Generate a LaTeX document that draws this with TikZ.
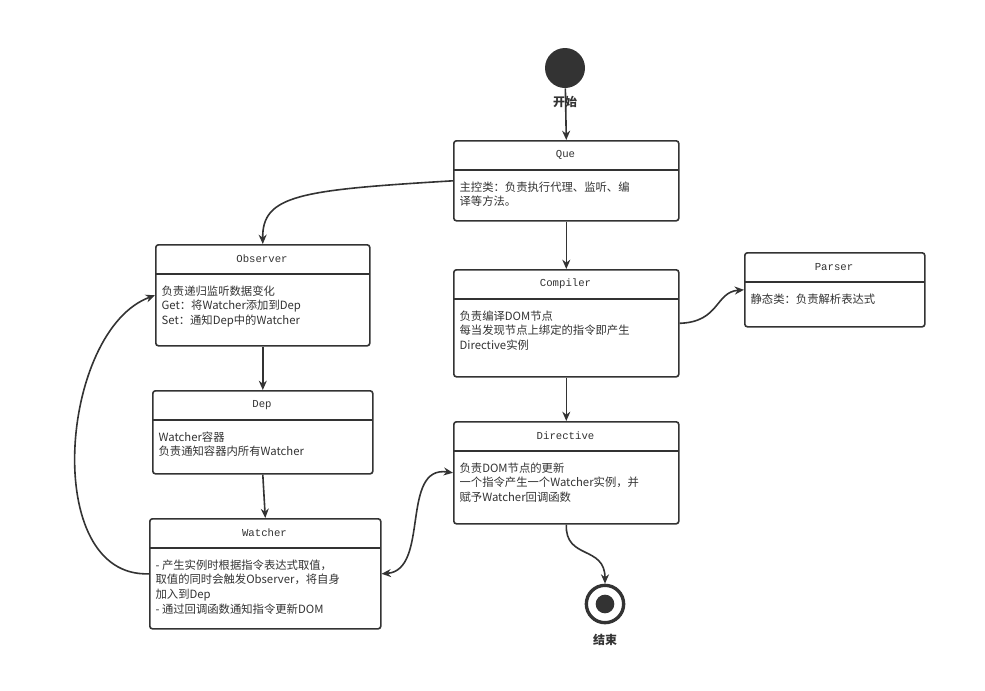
\documentclass[tikz,border=0pt]{standalone}
\usepackage{fontspec}
\setmainfont{Noto Sans CJK SC}
\newfontfamily\titlefont{Liberation Mono}
\usetikzlibrary{arrows.meta}

% class box: name, x1, y1, x2, y2, divider y, title, body
\newcommand{\classbox}[8]{%
  \pgfmathsetmacro{\bw}{(#4-#2)*0.75}%
  \pgfmathsetmacro{\bh}{(#5-#3)*0.75}%
  \node[box, minimum width=\bw pt, minimum height=\bh pt, anchor=north west] (#1) at (#2,#3) {};
  \draw[line width=1.2pt, draw=linegray] (#2,#6) -- (#4,#6);
  \node[title] (#1-title) at ({(#2+#4)/2},{(#3+#6)/2}) {#7};
  \node[body, anchor=north west] (#1-body) at (#2+5,#6+10) {#8};
}

\begin{document}
\begin{tikzpicture}[x=0.75pt, y=-0.75pt]
  % Define styles
  \definecolor{linegray}{HTML}{333333}
  \tikzset{
    box/.style={rectangle, draw=linegray, line width=1.2pt, rounded corners=2pt, fill=white, inner sep=0pt},
    title/.style={font=\titlefont\footnotesize, text=linegray},
    body/.style={font=\fontsize{8.5}{11}\selectfont, text=linegray, align=left, inner sep=1pt},
    arrow/.style={-{Stealth[length=7pt, width=6pt]}, line width=1.2pt, draw=linegray},
    endlabel/.style={font=\bfseries\fontsize{9}{11}\selectfont, text=linegray}
  }
  \useasboundingbox (0,0) rectangle (985,690);

  % Start and end
  \node[circle, fill=linegray, minimum size=30pt, inner sep=0pt] (start) at (565,68) {};
  \node[endlabel] (startlabel) at (565,102) {开始};
  \node[circle, draw=linegray, line width=2.5pt, fill=white, minimum size=28pt, inner sep=0pt] (end) at (605,604) {};
  \node[circle, fill=linegray, minimum size=14pt, inner sep=0pt] (endcore) at (605,604) {};
  \node[endlabel] (endlabel) at (605,640) {结束};

  % Boxes
  \classbox{que}{453}{140}{678}{220}{170}{Que}{主控类：负责执行代理、监听、编\\译等方法。}
  \classbox{observer}{155}{244}{369}{345}{274}{Observer}{负责递归监听数据变化\\Get：将Watcher添加到Dep\\Set：通知Dep中的Watcher}
  \classbox{compiler}{453}{269}{678}{376}{299}{Compiler}{负责编译DOM节点\\每当发现节点上绑定的指令即产生\\Directive实例}
  \classbox{parser}{744}{252}{924}{326}{282}{Parser}{静态类：负责解析表达式}
  \classbox{dep}{152}{390}{372}{473}{420}{Dep}{Watcher容器\\负责通知容器内所有Watcher}
  \classbox{directive}{453}{421}{678}{523}{451}{Directive}{负责DOM节点的更新\\一个指令产生一个Watcher实例，并\\赋予Watcher回调函数}
  \classbox{watcher}{149}{518}{380}{628}{548}{Watcher}{- 产生实例时根据指令表达式取值，\\取值的同时会触发Observer，将自身\\加入到Dep\\- 通过回调函数通知指令更新DOM}

  % Arrows
  \draw[arrow] (start) -- (que.north);
  \draw[arrow] (que.west) .. controls (300,190) and (262,195) .. (observer.north);
  \draw[arrow] (que.south) -- (compiler.north);
  \draw[arrow] (compiler.east) .. controls (720,322) and (715,292) .. (parser.west);
  \draw[arrow] (compiler.south) -- (directive.north);
  \draw[arrow] (observer.south) -- (dep.north);
  \draw[arrow] (dep.south) -- (watcher.north);
  \draw[arrow] (watcher.west) .. controls (40,578) and (60,330) .. (observer.west);
  \draw[arrow, {Stealth[length=7pt, width=6pt]}-{Stealth[length=7pt, width=6pt]}] (watcher.east) .. controls (430,570) and (400,465) .. (directive.west);
  \draw[arrow] (directive.south) .. controls (565,560) and (605,545) .. (end.north);
\end{tikzpicture}
\end{document}
